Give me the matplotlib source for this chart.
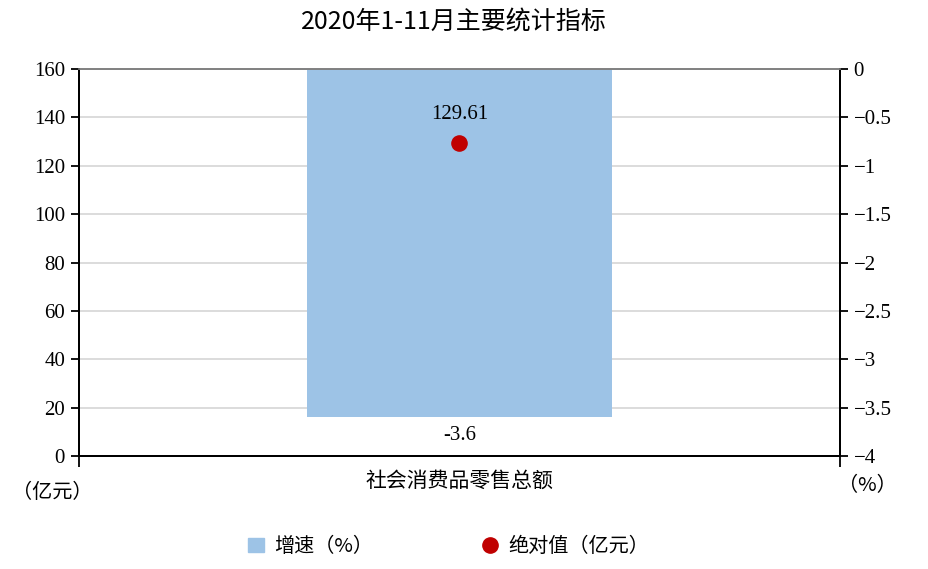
import matplotlib
matplotlib.use('Agg')
import matplotlib.pyplot as plt
from matplotlib.lines import Line2D
from matplotlib.patches import Patch

plt.rcParams['font.family'] = ['Noto Sans CJK SC', 'DejaVu Sans']

# data
categories = ['社会消费品零售总额']
growth = [-3.6]          # 增速（%）
absolute = [129.61]      # 绝对值（亿元）
left_ticks = [0, 20, 40, 60, 80, 100, 120, 140, 160]
right_ticks = [0, -0.5, -1, -1.5, -2, -2.5, -3, -3.5, -4]
right_labels = ['0', '−0.5', '−1', '−1.5', '−2', '−2.5', '−3', '−3.5', '−4']

bar_color = '#9dc3e6'
dot_color = '#c00000'
num_font = 'Liberation Serif'
num_size = 15
cn_size = 14.5

fig = plt.figure(figsize=(9.29, 5.69), dpi=100)
ax = fig.add_axes([0.085, 0.1986, 0.819, 0.6801])
ax2 = ax.twinx()

# bar on ax (percent scale, shown on right side)
x = list(range(len(categories)))
ax.bar(x, growth, width=0.4, color=bar_color, zorder=2)
ax.set_ylim(-4, 0)
ax.set_xlim(-0.5, len(categories) - 0.5)
ax.yaxis.tick_right()
ax.set_yticks(right_ticks)
ax.set_yticklabels(right_labels, fontsize=num_size, family=num_font)
ax.grid(axis='y', color='#d9d9d9', linewidth=1.3, zorder=0)
ax.set_axisbelow(True)
for i, v in enumerate(growth):
    ax.annotate(f'{v:g}', (x[i], v), xytext=(0, -6),
                textcoords='offset points', ha='center', va='top',
                fontsize=num_size, family=num_font)

# dot on ax2 (亿元 scale, shown on left side)
ax2.scatter(x, absolute, s=120, color=dot_color, zorder=5)
ax2.set_ylim(0, 160)
ax2.yaxis.tick_left()
ax2.set_yticks(left_ticks)
ax2.set_yticklabels([str(t) for t in left_ticks], fontsize=num_size, family=num_font)
for i, v in enumerate(absolute):
    ax2.annotate(f'{v:.2f}', (x[i], v), xytext=(0, 13),
                 textcoords='offset points', ha='center', va='bottom',
                 fontsize=num_size, family=num_font)

# x axis: boundary ticks and category label
ax.set_xticks([-0.5, 0.5])
ax.set_xticklabels(['', ''])
ax.set_xticks(x, minor=True)
ax.set_xticklabels(categories, minor=True, fontsize=cn_size + 0.5)
ax.tick_params(axis='x', which='major', length=8, width=1.3, direction='out')
ax.tick_params(axis='x', which='minor', length=0, pad=10)
ax.tick_params(axis='y', length=6, width=1.3, pad=4)
ax2.tick_params(axis='y', length=6, width=1.3, pad=4)

for a in (ax, ax2):
    a.spines['left'].set_linewidth(1.4)
    a.spines['right'].set_linewidth(1.4)
    a.spines['bottom'].set_linewidth(1.4)
    a.spines['top'].set_color('#808080')
    a.spines['top'].set_linewidth(1.2)

fig.text(0.488, 0.962, '2020年1-11月主要统计指标', ha='center', va='center', fontsize=18)
fig.text(0.056, 0.135, '（亿元）', ha='center', va='center', fontsize=cn_size)
fig.text(0.934, 0.146, '（%）', ha='center', va='center', fontsize=cn_size)

handles = [Patch(color=bar_color),
           Line2D([], [], marker='o', color=dot_color, linestyle='none', markersize=11)]
fig.legend(handles, ['增速（%）', '绝对值（亿元）'], loc='center', bbox_to_anchor=(0.483, 0.04),
           ncol=2, frameon=False, fontsize=cn_size, handlelength=0.8, handletextpad=0.5,
           columnspacing=5.4)

fig.savefig('out.png', dpi=100)
